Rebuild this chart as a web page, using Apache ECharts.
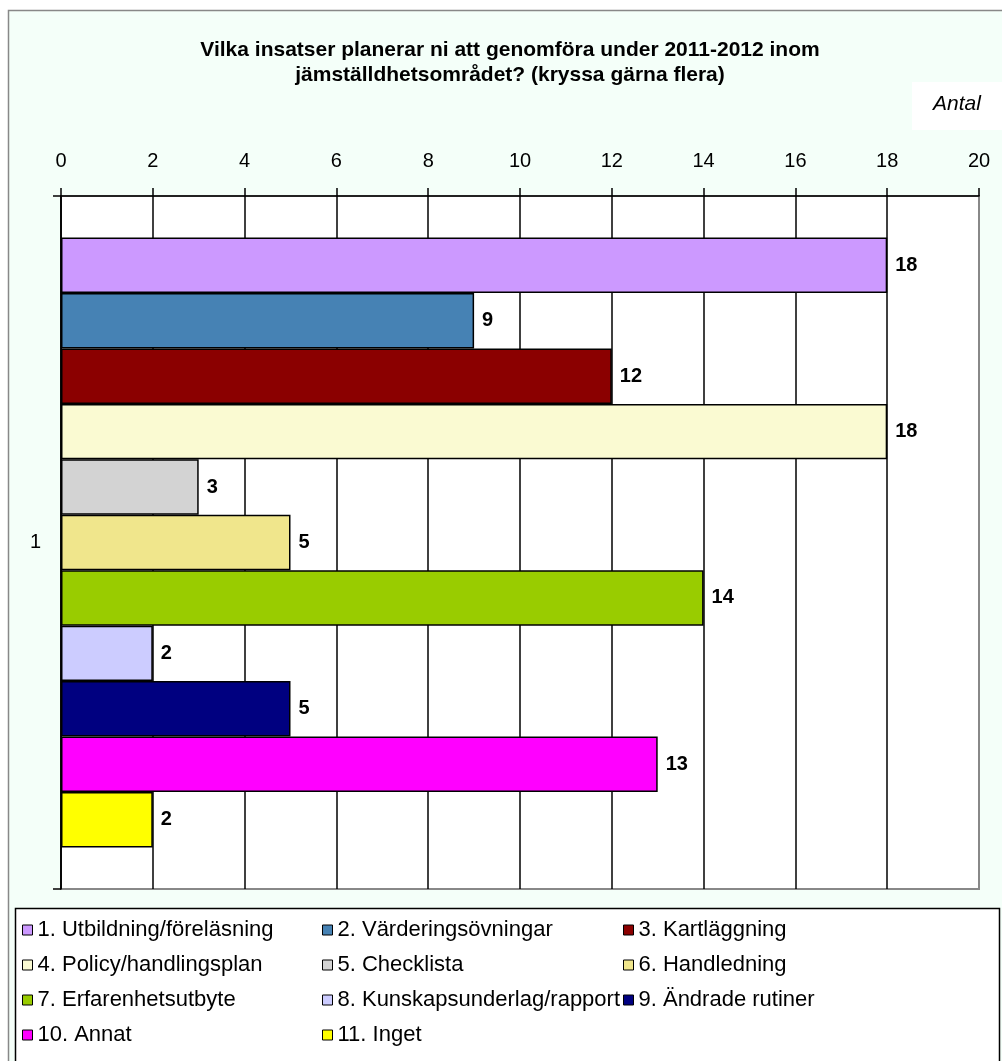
<!DOCTYPE html>
<html>
<head>
<meta charset="utf-8">
<script src="https://cdn.jsdelivr.net/npm/echarts@6/dist/echarts.min.js"></script>
<style>
html,body{margin:0;padding:0;background:#fff;}
#chart{width:1002px;height:1061px;}
</style>
</head>
<body>
<div id="chart"></div>
<script>
const categories = ['1'];
const seriesNames = ['1. Utbildning/föreläsning','2. Värderingsövningar','3. Kartläggning','4. Policy/handlingsplan','5. Checklista','6. Handledning','7. Erfarenhetsutbyte','8. Kunskapsunderlag/rapport','9. Ändrade rutiner','10. Annat','11. Inget'];
const seriesValues = [18, 9, 12, 18, 3, 5, 14, 2, 5, 13, 2];
const seriesColors = ['#CC99FF','#4682B4','#8B0000','#FAFAD2','#D3D3D3','#F0E68C','#99CC00','#CCCCFF','#000080','#FF00FF','#FFFF00'];
const xTicks = {min: 0, max: 20, interval: 2};
const titleText = 'Vilka insatser planerar ni att genomföra under 2011-2012 inom\njämställdhetsområdet? (kryssa gärna flera)';
const unitLabel = 'Antal';

const FONT = 'Liberation Sans, Arial, sans-serif';
const chart = echarts.init(document.getElementById('chart'), null, {renderer: 'canvas'});

const series = seriesNames.map((n, i) => ({
  name: n,
  type: 'bar',
  data: [seriesValues[i]],
  barGap: '0%',
  barCategoryGap: '12%',
  itemStyle: {color: seriesColors[i], borderColor: '#000', borderWidth: 1.5},
  label: {show: true, position: 'right', distance: 8, color: '#000', fontWeight: 'bold', fontSize: 20, fontFamily: FONT},
  emphasis: {disabled: true},
  animation: false
}));

const cols = [[0,3,6,9],[1,4,7,10],[2,5,8]];
const colLeft = [22, 322, 623];
const legends = cols.map((c, k) => ({
  data: c.map(i => seriesNames[i]),
  orient: 'vertical',
  left: colLeft[k],
  top: 919,
  itemWidth: 10,
  itemHeight: 10,
  itemGap: 13,
  icon: 'rect',
  itemStyle: {borderColor: '#000', borderWidth: 1},
  textStyle: {fontSize: 22, fontFamily: FONT, color: '#000', lineHeight: 22},
  selectedMode: false,
  padding: 0
}));

chart.setOption({
  animation: false,
  backgroundColor: '#fff',
  graphic: [
    {type: 'rect', z: -10, shape: {x: 8.5, y: 10.5, width: 1000, height: 1060}, style: {fill: '#F4FFF9', stroke: '#888', lineWidth: 1.5}},
    {type: 'rect', z: -5, shape: {x: 912, y: 82, width: 95, height: 48}, style: {fill: '#fff'}},
    {type: 'text', z: 5, left: 933, top: 94, style: {text: unitLabel, fontSize: 21, fontStyle: 'italic', fontFamily: FONT, fill: '#000'}},
    {type: 'rect', z: -5, shape: {x: 15.5, y: 908.5, width: 984, height: 160}, style: {fill: '#fff', stroke: '#000', lineWidth: 1.5}}
  ],
  title: {
    text: titleText,
    left: 505,
    top: 33,
    textAlign: 'center',
    textStyle: {fontSize: 21, fontWeight: 'bold', fontFamily: FONT, color: '#000', lineHeight: 25}
  },
  legend: legends,
  grid: {left: 61, right: 23, top: 196, bottom: 172, show: true, backgroundColor: '#fff', borderColor: '#888', borderWidth: 2},
  xAxis: {
    type: 'value',
    position: 'top',
    min: xTicks.min, max: xTicks.max, interval: xTicks.interval,
    axisLine: {show: true, lineStyle: {color: '#000', width: 1.5}},
    axisTick: {show: true, length: 8, lineStyle: {color: '#000', width: 1.5}},
    axisLabel: {fontSize: 20, fontFamily: FONT, color: '#000', margin: 25},
    splitLine: {show: true, showMaxLine: false, lineStyle: {color: '#000', width: 1.5}}
  },
  yAxis: {
    type: 'category',
    data: categories,
    axisLine: {show: true, lineStyle: {color: '#000', width: 1.5}},
    axisTick: {show: true, length: 8, lineStyle: {color: '#000', width: 1.5}},
    axisLabel: {fontSize: 20, fontFamily: FONT, color: '#000', margin: 20},
    splitLine: {show: false}
  },
  series: series
});
</script>
</body>
</html>
